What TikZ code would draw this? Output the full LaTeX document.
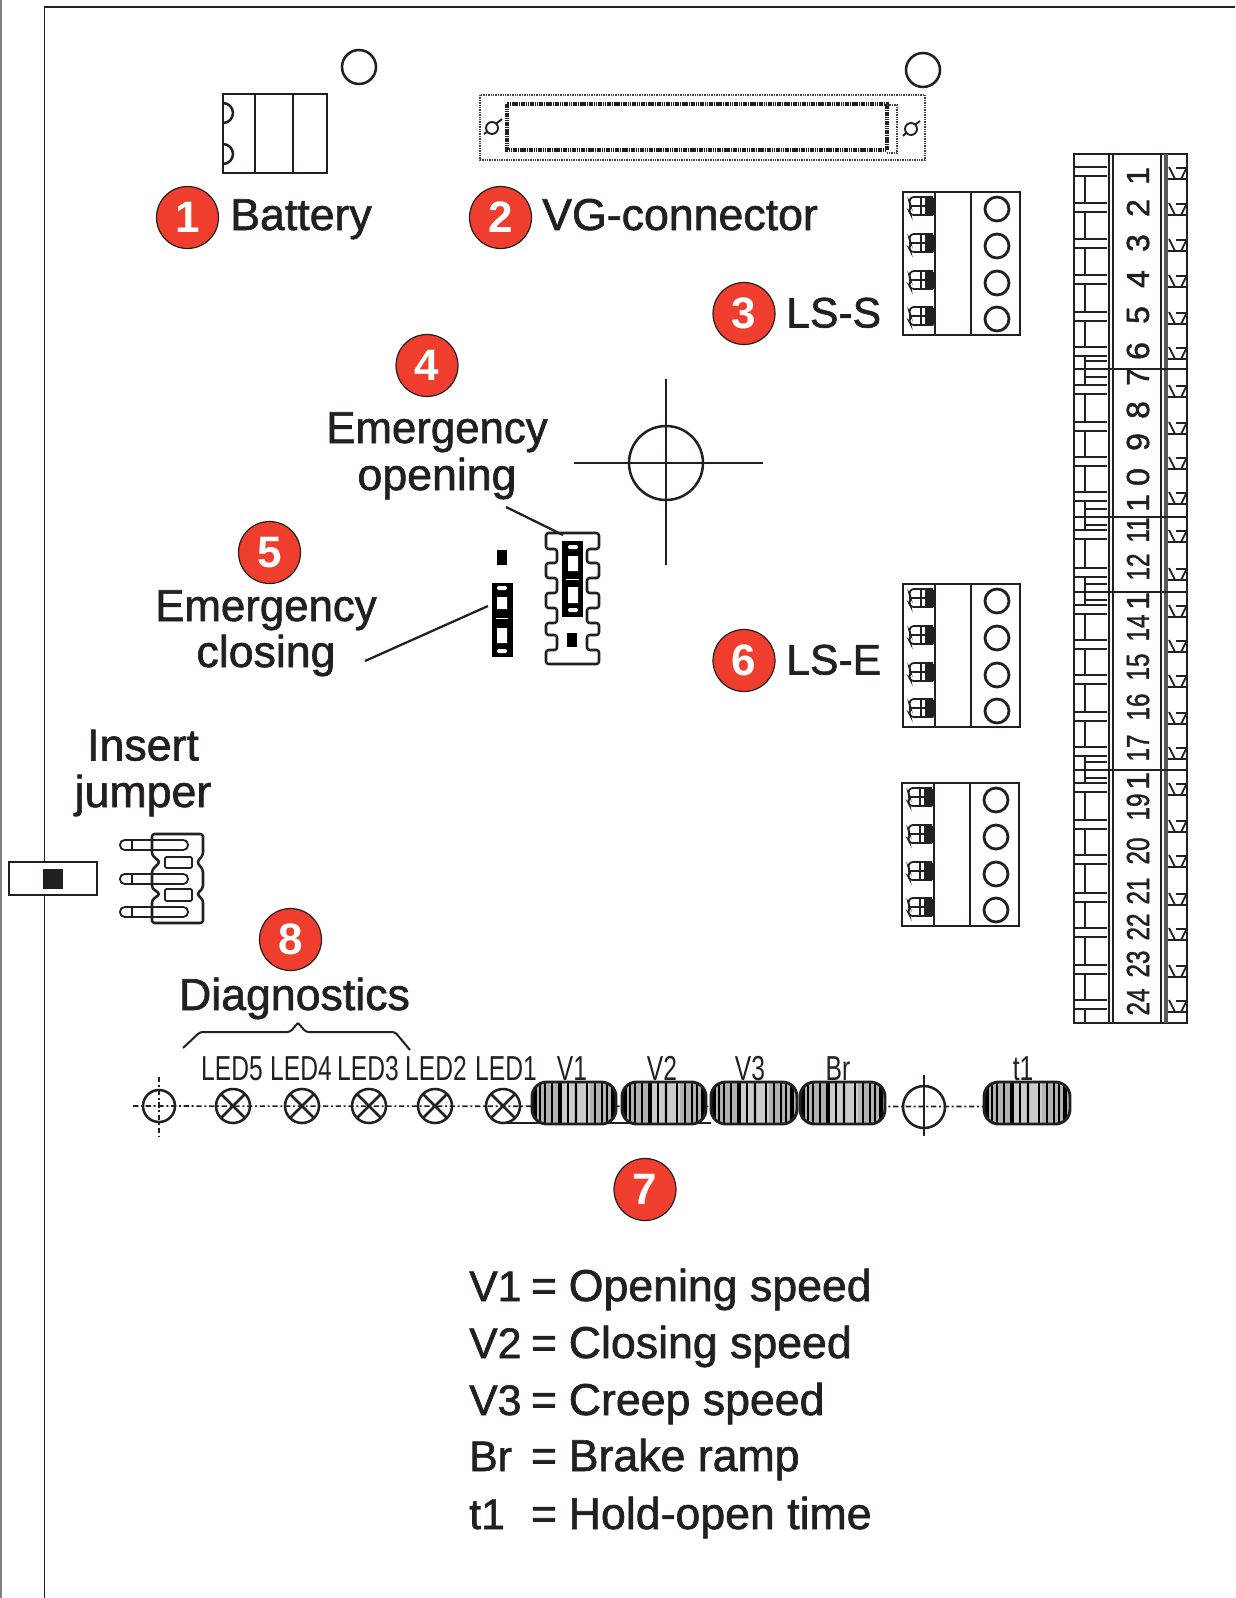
\documentclass[tikz,border=0pt]{standalone}
\usepackage{graphicx}
\usepackage{fontspec}
\setmainfont{Liberation Sans}
\newfontfamily\labfont[FakeBold=1.4]{Liberation Sans}
\definecolor{ink}{HTML}{231F20}
\definecolor{badge}{HTML}{EF3E2D}
\tikzset{
  lab/.style={font=\labfont\fontsize{33.5}{38}\selectfont,anchor=base west,inner sep=0pt,text=ink},
  labs/.style={lab,font=\labfont\fontsize{32}{38}\selectfont},
  labc/.style={lab,anchor=base},
  badgenum/.style={circle,draw=ink,line width=.9pt,fill=badge,text=white,minimum size=46.5pt,inner sep=0pt,
     font=\bfseries\fontsize{33}{38}\selectfont},
  small/.style={font=\fontsize{26}{30}\selectfont,anchor=base,inner sep=0pt,text=ink},
  digit/.style={font=\labfont\fontsize{24}{28}\selectfont,anchor=center,inner sep=0pt,rotate=90,text=ink},
  part/.style={draw=ink,line width=1.9pt},
  thin part/.style={draw=ink,line width=1.35pt},
  axis/.style={draw=ink,line width=1.2pt,dash pattern=on 4pt off 2pt on 1.5pt off 2pt},
}
\newcommand{\nar}[1]{\scalebox{.71}[1]{#1}}
\newcommand{\narr}[1]{\scalebox{.76}[1]{#1}}
\begin{document}
\begin{tikzpicture}[x=.75pt,y=-.75pt]
\useasboundingbox (0,0) rectangle (1235,1598);
% page frame
\draw[gray,line width=2pt] (.5,0) -- (.5,1598);
\draw[ink,line width=1.4pt] (1235,7) -- (44.5,7) -- (44.5,1598);
% mounting holes
\draw[part] (359,67) circle[radius=17];
\draw[part] (923,70) circle[radius=17];
% battery
\draw[part] (223,94) rectangle (327,173);
\draw[part] (255,94) -- (255,173) (293,94) -- (293,173);
\draw[part] (223,103) arc[start angle=-90,end angle=90,radius=10];
\draw[part] (223,144) arc[start angle=-90,end angle=90,radius=10];
% VG connector
\draw[ink!85,line width=2pt,dash pattern=on 1pt off .8pt] (480,95) rectangle (925,160);
\draw[ink,line width=3.2pt,dash pattern=on 1.2pt off .5pt] (507,104) rectangle (887,150);
\draw[ink!85,line width=1.6pt,dash pattern=on 1pt off .8pt] (887,105) -- (897,105) -- (897,153) -- (887,153);
\draw[ink,line width=1.4pt] (492,128) circle[radius=6] (484,134) -- (487,132) (497,123) -- (502,119);
\draw[ink,line width=1.4pt] (911,129) circle[radius=6] (903,136) -- (906,133) (916,124) -- (920,121);
% LS connectors
\foreach \dx/\dy in {0/0,0/392,-1/591}{
  \begin{scope}[shift={(\dx,\dy)}]
    \draw[part] (903,192) rectangle (1020,335);
    \draw[part] (935,192) -- (935,335) (971,192) -- (971,335);
    \foreach \cy in {209,246,283,319}{
      \draw[ink,line width=2.1pt] (997,\cy) circle[radius=12];
      \draw[thin part,rounded corners=2pt] (933,\cy-12) -- (911,\cy-12) -- (909,\cy-7) -- (911,\cy-3) -- (909,\cy+2) -- (911,\cy+6) -- (933,\cy+6);
      \draw[thin part] (909,\cy-3) -- (933,\cy-3) (921,\cy-12) -- (921,\cy+6);
      \fill[ink] (925,\cy-11) rectangle (934,\cy+6);
    }
  \end{scope}
}
% terminal strip
\draw[part] (1074,154) rectangle (1187,1023);
\draw[thin part] (1109,154) -- (1109,1023);
\draw[thin part] (1113,154) -- (1113,1023);
\draw[thin part] (1161,154) -- (1161,1023);
\draw[draw=ink!75,line width=2.6pt] (1166,154) -- (1166,1023);
\foreach \sy in {369,517,592,770}{
  \draw[ink,line width=1.6pt] (1074,\sy) -- (1187,\sy);
  \draw[thin part] (1085,\sy-14) -- (1085,\sy-8) -- (1107,\sy-8);
  \draw[thin part] (1085,\sy+14) -- (1085,\sy+8) -- (1107,\sy+8);
}
\foreach \ry/\nx in {167/203,203/239,239/275,275/312,312/347,347/385,385/422,422/457,457/492,492/530,530/568,568/605,605/640,640/675,675/712,712/747,747/783,783/820,820/855,855/893,893/928,928/965,965/1000,1000/1023}{
  \draw[thin part] (1074,\ry) -- (1107,\ry) (1074,\ry+9) -- (1107,\ry+9);
  \draw[thin part] (1085,\ry+9) -- (1085,\nx);
  \draw[thin part] (1168,\ry+12) -- (1187,\ry+12) (1176,\ry+1) -- (1187,\ry+1);
  \draw[thin part] (1169,\ry) -- (1175,\ry+12) (1187,\ry) -- (1181,\ry+12);
}
\foreach \n/\ty in {1/176,2/208,3/243,4/279,5/315,6/351,7/377,8/410,9/442,0/477,1/503}{
  \node[digit] (d\ty) at (1138,\ty) {\n};
}
\foreach \n/\ty in {11/530,12/567,14/628,15/667,16/707,17/748,19/807,20/851,21/891,22/927,23/964,24/1002}{
  \node[digit] (d\ty) at (1138,\ty) {\narr{\n}};
}
\node[digit] (d602) at (1138,601) {1};
\node[digit] (d782) at (1138,781) {1};
% crosshair
\draw[draw=ink,line width=1.1pt] (574,463) -- (763,463) (666,379) -- (666,565);
\draw[part] (666,463) circle[radius=37];
% right jumper block
\draw[part,rounded corners=2pt] (546,533) -- (599,533) -- (599,549) -- (587,549) -- (587,563) -- (599,563) -- (599,578) -- (587,578) -- (587,593) -- (599,593) -- (599,608) -- (587,608) -- (587,623) -- (599,623) -- (599,635) -- (587,635) -- (587,650) -- (599,650) -- (599,664) -- (546,664) -- (546,650) -- (557,650) -- (557,635) -- (546,635) -- (546,623) -- (557,623) -- (557,608) -- (546,608) -- (546,593) -- (557,593) -- (557,578) -- (546,578) -- (546,563) -- (557,563) -- (557,549) -- (546,549) -- cycle;
\fill[black] (562,541) rectangle (583,617);
\fill[white,rounded corners=1pt] (568,545) rectangle (578,549);
\fill[white] (568,556) rectangle (578,571) (568,587) rectangle (578,603);
\fill[white] (566,578.5) rectangle (579,580);
\fill[white,rounded corners=1pt] (568,608) rectangle (578,612);
\fill[black] (567,633) rectangle (577,647);
% left jumper block
\fill[black] (497,550) rectangle (507,565);
\fill[black] (492,583) rectangle (513,657);
\fill[white,rounded corners=1pt] (497,586) rectangle (507,590);
\fill[white] (497,597) rectangle (507,609) (497,628) rectangle (507,643);
\fill[white] (496,617.5) rectangle (508,619);
\fill[white,rounded corners=1pt] (497,649) rectangle (507,653);
% leaders
\coordinate (openA) at (506,507);
\coordinate (openB) at (563,535);
\coordinate (closeA) at (365,661);
\coordinate (closeB) at (488,606);
\draw[ink,line width=1.7pt] (openA) -- (openB);
\draw[ink,line width=1.7pt] (closeA) -- (closeB);
% insert-jumper header
\draw[part,rounded corners=2pt] (152,834) -- (203,834) -- (203,855) -- (197,862) -- (203,870) -- (203,888) -- (197,894) -- (203,900) -- (203,923) -- (152,923) -- (152,900) -- (160,894) -- (152,888) -- (152,870) -- (160,862) -- (152,855) -- cycle;
\foreach \py in {845,879,912}{
  \draw[thin part,rounded corners=3.5pt] (120,\py-5) rectangle (188,\py+5);
  \draw[thin part] (132,\py-5) -- (132,\py+5);
}
\draw[thin part,rounded corners=1pt] (165,857) rectangle (192,868) (165,889) rectangle (192,901);
\draw[ink,line width=1.9pt,fill=white] (9,862) rectangle (97,895);
\fill[ink] (43,869) rectangle (63,889);
% axis line, LEDs
\draw[axis] (133,1106) -- (984,1106.5);
\draw[part] (159,1106) circle[radius=16];
\draw[axis] (159,1077) -- (159,1137);
\foreach \lx in {233,302,369,435,503}{
  \draw[part] (\lx,1106) circle[radius=17];
  \draw[part] (\lx-12,1094) -- (\lx+12,1118) (\lx-12,1118) -- (\lx+12,1094);
}
\draw[part] (924,1107) circle[radius=21];
\draw[thin part] (924,1075) -- (924,1136);
\draw[part] (505,1123) -- (711,1123);
% trimmers
\foreach \tx/\tw in {532/84,622/84,711/86,800/85,984/86}{
  \fill[gray!60] (\tx,1082) [rounded corners=11pt] rectangle (\tx+\tw,1124);
  \begin{scope}
    \clip (\tx,1082) [rounded corners=11pt] rectangle (\tx+\tw,1124);
    \fill[gray!40] (\tx+30,1082) rectangle (\tx+42,1124) (\tx+46,1082) rectangle (\tx+58,1124);
    \foreach \s/\w in {3/3.5,8/2,13/2,20/1.8,28/2.4,36/1.6,44/2,55/2,63/2,70/1.6,75/2,81/3.5}{
      \draw[black,line width=\w pt] (\tx+\s,1082) -- (\tx+\s,1124);
    }
  \end{scope}
  \draw[ink,line width=2.2pt,rounded corners=11pt] (\tx,1082) rectangle (\tx+\tw,1124);
}
% brace
\draw[ink,line width=1.5pt,rounded corners=2pt] (183,1048) -- (200,1032) -- (290,1032) -- (298,1023);
\draw[ink,line width=1.5pt,rounded corners=2pt] (298,1023) -- (306,1032) -- (395,1032) -- (410,1050);
% small labels
\foreach \t/\sx/\nm in {LED5/232/a,LED4/301/b,LED3/368/c,LED2/436/d,LED1/506/e,V1/572/f,V2/662/g,V3/750/h,Br/838/i,t1/1023/j}{
  \node[small] (sl\nm) at (\sx,1080) {\nar{\t}};
}
% badges
\node[badgenum] (b1) at (187.5,217.5) {1};
\node[badgenum] (b2) at (500.5,217.5) {2};
\node[badgenum] (b3) at (744,313.5) {3};
\node[badgenum] (b4) at (427,365.5) {4};
\node[badgenum] (b5) at (269.5,552.5) {5};
\node[badgenum] (b6) at (744,660.5) {6};
\node[badgenum] (b7) at (645,1189.5) {7};
\node[badgenum] (b8) at (290.5,939.5) {8};
% labels
\node[lab] (battery) at (230,230) {Battery};
\node[lab] (vg) at (542,230) {VG-connector};
\node[labs] (lss) at (786,327.5) {LS-S};
\node[labs] (lse) at (786,674.5) {LS-E};
\node[labc] (eo1) at (437,443) {\scalebox{.98}[1]{Emergency}};
\node[labc] (eo2) at (437,490) {opening};
\node[labc] (ec1) at (266,621) {\scalebox{.98}[1]{Emergency}};
\node[labc] (ec2) at (266,667) {closing};
\node[labc] (ij1) at (143,760.5) {Insert};
\node[labc] (ij2) at (143,807) {jumper};
\node[labc] (diag) at (294.5,1010) {Diagnostics};
\foreach \k/\s/\d/\ly in {a/V1/Opening speed/1301,b/V2/Closing speed/1358,c/V3/Creep speed/1415,d/Br/Brake ramp/1471,e/t1/Hold-open time/1529}{
  \node[labs] (ls\k) at (469,\ly) {\s};
  \node[labc] (le\k) at (544,\ly) {=};
  \node[lab] (lt\k) at (568.5,\ly) {\d};
}
\end{tikzpicture}
\end{document}
